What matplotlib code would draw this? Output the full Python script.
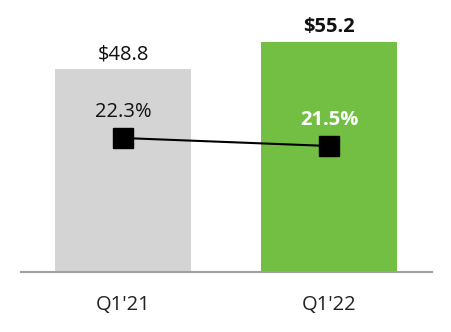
import matplotlib
matplotlib.use("Agg")
import matplotlib.pyplot as plt

categories = ["Q1'21", "Q1'22"]
revenue = [48.8, 55.2]
revenue_labels = ["$48.8", "$55.2"]
margin = [22.3, 21.5]
margin_labels = ["22.3%", "21.5%"]

bar_colors = ["#d4d4d4", "#72bf44"]

plt.rcParams['font.family'] = ['Open Sans', 'DejaVu Sans']

fig = plt.figure(figsize=(4.52, 3.32), dpi=100)
ax = fig.add_axes([0, 60/332, 1, 272/332])
ax.set_facecolor('none')
x = list(range(len(categories)))
ax.bar(x, revenue, width=0.66, color=bar_colors, zorder=1)
ax.set_xlim(-123/206, 1 + 123/206)
ax.set_ylim(0, 65.3)
for s in ax.spines.values():
    s.set_visible(False)
ax.set_yticks([])
ax.set_xticks([])
ax.axhline(0, xmin=21/452, xmax=432/452, color="#a0a0a0", lw=1.5, zorder=3, clip_on=False)

for i, (v, lab) in enumerate(zip(revenue, revenue_labels)):
    ax.annotate(lab, (x[i], v), xytext=(0, 10.5), textcoords='offset points',
                ha='center', va='center', fontsize=14.5,
                fontweight='bold' if i == 1 else 'normal', color='#111111')

for i, c in enumerate(categories):
    ax.annotate(c, (x[i], 0), xytext=(0, -23.5), textcoords='offset points',
                ha='center', va='center', fontsize=14.5, color='#222222',
                annotation_clip=False)

ax2 = ax.twinx()
ax2.set_ylim(8.9, 36.1)
ax2.plot(x, margin, color='black', lw=1.5, marker='s', markersize=14,
         markerfacecolor='black', markeredgecolor='black', zorder=5)
ax2.set_yticks([])
for s in ax2.spines.values():
    s.set_visible(False)
for i, (v, lab) in enumerate(zip(margin, margin_labels)):
    ax2.annotate(lab, (x[i], v), xytext=(0, 19), textcoords='offset points',
                 ha='center', va='center', fontsize=14.5,
                 fontweight='bold' if i == 1 else 'normal',
                 color='white' if i == 1 else '#111111')

fig.savefig("out.png", dpi=100)
